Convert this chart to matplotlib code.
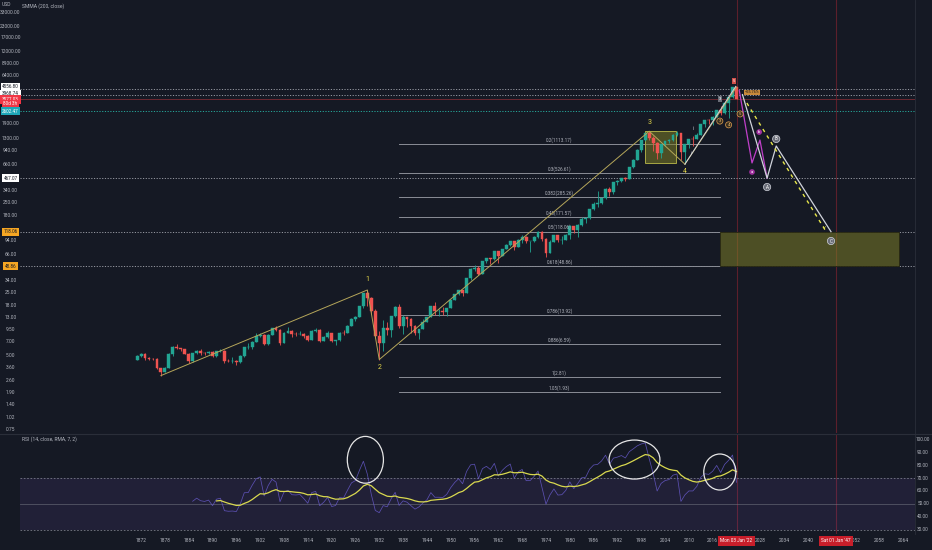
import numpy as np
import matplotlib
matplotlib.use("Agg")
import matplotlib.pyplot as plt
from matplotlib.patches import Rectangle, Ellipse
from matplotlib.transforms import blended_transform_factory as blend

plt.rcParams['font.family'] = ['Roboto', 'DejaVu Sans']

# ---------------- data ----------------
years = list(range(1871, 2023))
first_open = 4.44
closes = [
    4.86, 5.11, 4.66, 4.54, 4.46, 3.55, 3.25, 3.58, 5.11, 6.19,
    5.92, 5.81, 5.18, 4.24, 5.20, 5.58, 5.31, 5.24, 5.38, 4.84,
    5.51, 5.61, 4.32, 4.25, 4.27, 4.22, 4.88, 6.08, 6.10, 7.07,
    8.12, 8.46, 6.68, 8.43, 9.87, 9.56, 6.85, 8.85, 9.30, 8.59,
    8.55, 8.65, 8.05, 7.35, 9.33, 9.57, 7.21, 7.85, 8.83, 7.11,
    7.30, 8.90, 8.83, 10.58, 12.65, 13.40, 17.66, 24.35, 21.45, 15.34,
    8.12, 6.89, 10.10, 9.50, 13.43, 17.18, 10.55, 13.21, 12.49, 10.58,
    8.69, 9.77, 11.67, 13.28, 17.36, 15.30, 15.30, 15.20, 16.76, 20.41,
    23.77, 26.57, 24.81, 35.98, 45.48, 46.67, 39.99, 55.21, 59.89, 58.11,
    71.55, 63.10, 75.02, 84.75, 92.43, 80.33, 96.47, 103.86, 92.06, 92.15,
    102.09, 118.05, 97.55, 68.56, 90.19, 107.46, 95.10, 96.11, 107.94, 135.76,
    122.55, 140.64, 164.93, 167.24, 211.28, 242.17, 247.08, 277.72, 353.40, 330.22,
    417.09, 435.71, 466.45, 459.27, 615.93, 740.74, 970.43, 1229.23, 1469.25, 1320.28,
    1148.08, 879.82, 1111.92, 1211.92, 1248.29, 1418.30, 1468.36, 903.25, 1115.10, 1257.64,
    1257.60, 1426.19, 1848.36, 2058.90, 2043.94, 2238.83, 2673.61, 2506.85, 3230.78, 3756.07,
    4766.18, 3577.03]
highs = [
    4.95, 5.20, 5.20, 4.80, 4.65, 4.60, 3.60, 3.65, 5.20, 6.30,
    6.60, 6.00, 5.90, 5.20, 5.30, 5.70, 5.80, 5.40, 5.50, 5.50,
    5.60, 5.80, 5.65, 4.55, 4.70, 4.40, 5.00, 6.15, 6.80, 7.15,
    8.70, 8.80, 8.50, 8.50, 9.95, 10.40, 9.70, 8.95, 10.30, 9.40,
    9.10, 9.30, 8.80, 8.30, 9.40, 9.90, 9.70, 8.20, 9.30, 8.90,
    7.40, 9.10, 9.40, 10.70, 12.80, 13.70, 17.70, 24.80, 26.50, 22.20,
    16.20, 9.30, 12.20, 11.80, 13.50, 17.70, 18.70, 13.80, 13.20, 12.80,
    10.90, 9.80, 12.60, 13.40, 17.60, 19.30, 16.20, 17.10, 16.80, 20.50,
    23.90, 26.60, 26.70, 36.00, 46.40, 49.70, 49.10, 55.30, 60.70, 60.40,
    72.60, 71.10, 75.10, 86.30, 92.60, 94.10, 97.60, 108.40, 106.20, 93.50,
    104.80, 119.10, 120.20, 99.80, 95.60, 107.80, 107.50, 106.90, 111.30, 140.50,
    138.10, 143.70, 172.60, 170.40, 212.00, 254.00, 336.80, 283.70, 359.80, 369.80,
    418.30, 442.70, 471.30, 482.90, 622.90, 757.00, 983.80, 1244.90, 1473.10, 1552.90,
    1383.40, 1176.60, 1112.60, 1217.30, 1275.80, 1431.80, 1576.10, 1471.80, 1130.40, 1262.60,
    1370.60, 1474.50, 1849.40, 2093.60, 2134.70, 2277.50, 2694.97, 2940.90, 3247.90, 3760.20,
    4808.90, 4818.62]
lows = [
    4.40, 4.80, 4.40, 4.40, 4.35, 3.50, 2.95, 3.20, 3.55, 4.90,
    5.80, 5.50, 5.10, 4.10, 4.15, 5.10, 5.00, 5.00, 5.15, 4.70,
    4.75, 5.40, 4.10, 4.20, 4.10, 3.90, 4.10, 4.70, 5.90, 5.80,
    7.00, 8.00, 6.40, 6.50, 8.30, 9.20, 6.40, 6.80, 8.70, 8.00,
    8.20, 8.40, 7.70, 7.20, 7.30, 9.00, 7.00, 7.10, 7.80, 6.90,
    6.40, 7.20, 8.30, 8.70, 10.40, 12.00, 13.20, 16.90, 17.60, 14.40,
    7.70, 4.45, 5.50, 8.40, 8.00, 13.10, 10.10, 8.50, 10.20, 8.90,
    8.40, 7.50, 9.80, 11.60, 13.20, 14.10, 13.70, 13.80, 13.50, 16.60,
    20.60, 23.10, 22.70, 24.80, 34.60, 43.10, 38.90, 39.90, 53.60, 52.20,
    57.60, 52.30, 62.70, 75.00, 81.60, 73.20, 80.30, 87.70, 89.20, 69.30,
    90.20, 101.70, 92.20, 62.30, 68.50, 90.10, 90.70, 86.90, 96.10, 98.20,
    112.80, 102.20, 138.30, 147.80, 163.40, 203.50, 223.90, 242.60, 275.30, 294.50,
    309.40, 394.50, 426.90, 435.90, 457.20, 597.30, 733.50, 912.80, 1205.50, 1254.10,
    944.80, 768.60, 788.90, 1060.70, 1136.20, 1219.30, 1363.00, 741.00, 666.80, 1010.90,
    1074.80, 1258.90, 1426.20, 1737.90, 1867.00, 1810.10, 2245.10, 2346.60, 2443.90, 2191.90,
    3662.70, 3568.00]

# Elliott-wave count (year, price)
wave_years = [1877, 1929, 1932, 2000, 2009]
wave_prices = [2.95, 26.5, 4.45, 1552.9, 666.8]
wave_labels = ["", "1", "2", "3", "4"]
wave_label_prices = [None, 35.0, 3.67, 1960.0, 546.0]

# fib retracement levels
fib_levels = ["0.2", "0.3", "0.382", "0.45", "0.5", "0.618", "0.786", "0.886", "1", "1.05"]
fib_prices = [1113.17, 526.61, 285.26, 171.57, 118.06, 48.86, 13.92, 6.59, 2.81, 1.93]
fib_span = (1937.0, 2017.8)

# projections
white_path_years = [2023.5, 2029.7, 2032.0, 2045.8]
white_path_prices = [3968.0, 467.07, 1063.0, 118.06]
white_path_labels = ["", "A", "B", "C"]
white_label_prices = [None, 371.0, 1274.0, 93.0]
magenta_years = [2022.7, 2025.9, 2027.9, 2029.7]
magenta_prices = [4400.0, 688.0, 1239.0, 467.07]
magenta_labels = [(2025.9, 546.0, "a"), (2027.7, 1520.0, "b")]
yellow_dash_years = [2024.6, 2044.8]
yellow_dash_prices = [3200.0, 114.0]
channel_white = ([2009, 2021.8], [666.8, 4900.0])
channel_khaki = ([2009, 2022.0], [666.8, 4818.62])
sub_labels = [(2017.8, 2012.0, "3"), (2020.0, 1828.0, "4"), (2022.9, 2418.0, "5")]
small_white = [(2011.0, 1686.0, "i"), (2010.8, 888.0, "ii")]

# boxes (year0, year1, price0, price1)
box_wave4 = (1999.0, 2006.8, 688.0, 1562.0)
box_target = (2017.8, 2062.9, 48.86, 118.06)

# horizontal marker lines
hlines_white = [4556.80, 3968.74, 467.07, 118.06, 48.86]
hline_teal = 2602.47
last_price = 3577.03

# axis labels
left_ticks = [0.75, 1.02, 1.40, 1.90, 2.60, 3.60, 5.00, 7.00, 9.50, 13.00, 18.00,
              25.00, 34.00, 66.00, 94.00, 180.00, 250.00, 340.00, 660.00, 940.00,
              1300.00, 1900.00, 6400.00, 8900.00, 12000.00, 17000.00, 23000.00, 33000.00]
year_ticks = [1872, 1878, 1884, 1890, 1896, 1902, 1908, 1914, 1920, 1926, 1932, 1938,
              1944, 1950, 1956, 1962, 1968, 1974, 1980, 1986, 1992, 1998, 2004, 2010,
              2016, 2028, 2034, 2040, 2052, 2058, 2064]
marker_years = [2022, 2047]
marker_texts = ["Mon 03 Jan '22", "Sat 01 Jan '47"]
rsi_ticks = [100, 90, 80, 70, 60, 50, 40, 30]

# RSI circles (center year, center rsi, width yrs, height)
rsi_circles = [(1928.5, 84.0, 9.1, 36.0), (1996.3, 84.2, 12.8, 30.0), (2017.8, 74.6, 8.1, 27.7)]

# ---------------- style ----------------
BG = '#151924'
TXT = '#b2b5be'
UP = '#22a593'
DN = '#ef5350'
FS = 3.9

W, H = 932, 550
L, R = 20, 915
fig = plt.figure(figsize=(W / 100, H / 100), dpi=100, facecolor=BG)
ax = fig.add_axes([L / W, 1 - 433 / H, (R - L) / W, 433 / H])
axr = fig.add_axes([L / W, 1 - 534 / H, (R - L) / W, 100 / H])
for a in (ax, axr):
    a.set_facecolor(BG)
    for s in a.spines.values():
        s.set_visible(False)
    a.set_xticks([])
    a.set_yticks([])
    a.set_xlim(1841.5, 2066.96)
ax.set_yscale('log')
ax.set_ylim(0.6769, 44906)
axr.set_ylim(26.92, 103.85)
ax.minorticks_off()
ax.set_yticks([])

# separators
fig.add_artist(plt.Line2D([0, 1], [1 - 433.5 / H] * 2, color='#2a2e39', lw=0.8))
fig.add_artist(plt.Line2D([R / W] * 2, [1 - 534 / H, 1], color='#2a2e39', lw=0.6))

# ---------------- candles ----------------
x = np.array(years, dtype=float)
c = np.array(closes)
o = np.concatenate([[first_open], c[:-1]])
h = np.maximum(np.array(highs), np.maximum(o, c))
lo = np.minimum(np.array(lows), np.minimum(o, c))
up = c >= o
cols = np.where(up, UP, DN)
ax.vlines(x, lo, h, colors=cols, lw=0.6, zorder=3)
bot = np.minimum(o, c)
top = np.maximum(o, c)
ax.bar(x, top - bot, bottom=bot, width=0.72, color=cols, edgecolor=cols, lw=0.3, zorder=4)

# vertical marker lines
for yv in marker_years:
    for a in (ax, axr):
        a.axvline(yv, color='#5c1f2b', lw=0.8, zorder=1)

# horizontal lines
for p in hlines_white:
    ax.axhline(p, color='#9598a1', lw=0.7, ls=(0, (1.2, 1.6)), zorder=2)
ax.axhline(hline_teal, color='#26a69a', lw=0.7, ls=(0, (1.2, 1.6)), zorder=2)
ax.axhline(last_price, color='#7a2a33', lw=0.6, zorder=2)

# fib
for lev, p in zip(fib_levels, fib_prices):
    ax.plot(fib_span, [p, p], color='#8a8d96', lw=0.7, zorder=2)
    ax.text(np.mean(fib_span), p * 1.035, f"{lev}({p:.2f})", color=TXT, fontsize=FS - 0.6,
            ha='center', va='bottom', zorder=5)

# boxes
for (y0, y1, p0, p1), ec in ((box_wave4, '#a8a845'), (box_target, '#2a2a14')):
    ax.add_patch(Rectangle((y0, p0), y1 - y0, p1 - p0, facecolor='#7d7d26', alpha=0.55,
                           edgecolor='none', zorder=2))
    ax.add_patch(Rectangle((y0, p0), y1 - y0, p1 - p0, facecolor='none', edgecolor=ec,
                           lw=0.7, zorder=2))

# wave lines
ax.plot(wave_years, wave_prices, color='#b5a65a', lw=0.7, zorder=5)
ax.plot(*channel_khaki, color='#b5a65a', lw=0.7, zorder=5)
ax.plot(*channel_white, color='#d1d4dc', lw=0.7, zorder=5)
for yv, p, t in zip(wave_years, wave_label_prices, wave_labels):
    if t:
        ax.text(yv, p, t, color='#e6d84a', fontsize=5, ha='center', va='center', zorder=6)
for yv, p, t in small_white:
    ax.text(yv, p, t, color='#d1d4dc', fontsize=3.5, ha='center', va='center', zorder=6)

# projections
ax.plot(magenta_years, magenta_prices, color='#c03fc9', lw=0.9, zorder=5)
ax.plot(white_path_years, white_path_prices, color='#d1d4dc', lw=0.9, zorder=5)
ax.plot(yellow_dash_years, yellow_dash_prices, color='#e6e64a', lw=1.0, ls=(0, (2.5, 3)), zorder=5)
ax.text(yellow_dash_years[1] - 0.6, yellow_dash_prices[1] * 1.12, "Y", color='#e6e64a',
        fontsize=3.5, ha='center', va='center', zorder=6)
for yv, p, t in zip(white_path_years, white_label_prices, white_path_labels):
    if t:
        ax.text(yv, p, t, color='#ffffff', fontsize=3.3, ha='center', va='center', zorder=7,
                bbox=dict(boxstyle='circle,pad=0.25', fc='#6a6d78', ec='#d1d4dc', lw=0.5))
for yv, p, t in magenta_labels:
    ax.text(yv, p, t, color='#ffffff', fontsize=3.0, ha='center', va='center', zorder=7,
            bbox=dict(boxstyle='circle,pad=0.2', fc='#a0309f', ec='none'))
for yv, p, t in sub_labels:
    ax.text(yv, p, t, color='#f0c070', fontsize=3.0, ha='center', va='center', zorder=7,
            bbox=dict(boxstyle='circle,pad=0.25', fc='#3a3020', ec='#e0a050', lw=0.5))
ax.text(2017.8, 3556, "3", color='#ffffff', fontsize=3.0, ha='center', va='center', zorder=7,
        bbox=dict(boxstyle='square,pad=0.25', fc='#6a6d78', ec='none'))
ax.text(2026.0, 4200, "\u221225.76%", color='#1a1a1a', fontsize=2.8, ha='center', va='center',
        zorder=7, bbox=dict(boxstyle='square,pad=0.2', fc='#c7893a', ec='none'))
ax.text(2021.3, 5600, "5", color='#ffffff', fontsize=3.0, ha='center', va='center', zorder=8,
        bbox=dict(boxstyle='square,pad=0.2', fc='#d0504a', ec='none'))

# ---------------- left price axis ----------------
tl = blend(ax.transAxes, ax.transData)
lx = -9.5 / (R - L)
for p in left_ticks:
    ax.text(lx, p, f"{p:.2f}", color=TXT, fontsize=FS - 0.4, ha='center', va='center',
            transform=tl, clip_on=False)
boxes = [(4556.80 * 1.06, "4556.80", '#ffffff', '#131722'),
         (3968.74 * 1.02, "3968.74", '#ffffff', '#131722'),
         (last_price * 0.98, "3577.03", '#f23645', '#ffffff'),
         (last_price * 0.88, "80d 3h", '#f23645', '#ffffff'),
         (hline_teal, "2602.47", '#1ea7b8', '#ffffff'),
         (467.07, "467.07", '#ffffff', '#131722'),
         (118.06, "118.06", '#f5a623', '#131722'),
         (48.86, "48.86", '#f5a623', '#131722')]
for p, t, fc, tc in boxes:
    ax.text(lx, p, t, color=tc, fontsize=FS - 0.6, ha='center', va='center', transform=tl,
            clip_on=False, zorder=10,
            bbox=dict(boxstyle='square,pad=0.35', fc=fc, ec='none'))
fig.text(2 / W, 1 - 5 / H, "USD", color=TXT, fontsize=FS - 0.3, ha='left', va='center')
fig.text(22 / W, 1 - 6 / H, "SMMA (200, close)", color=TXT, fontsize=FS - 0.3, ha='left', va='center')

# ---------------- RSI ----------------
d = np.diff(c)
gain = np.clip(d, 0, None)
loss = np.clip(-d, 0, None)


def rma(v, n):
    out = np.full(len(v), np.nan)
    valid = np.where(~np.isnan(v))[0]
    s = valid[0]
    if len(v) - s < n:
        return out
    out[s + n - 1] = np.mean(v[s:s + n])
    for i in range(s + n, len(v)):
        out[i] = (out[i - 1] * (n - 1) + v[i]) / n
    return out


ag = rma(gain, 14)
al = rma(loss, 14)
rsi = np.concatenate([[np.nan], 100 - 100 / (1 + ag / al)])
rsi_ma = rma(rsi, 7)

axr.axhspan(30, 70, color='#7e57c2', alpha=0.12, lw=0)
axr.axhline(70, color='#787b86', lw=0.6, ls=(0, (2, 2)))
axr.axhline(30, color='#787b86', lw=0.6, ls=(0, (2, 2)))
axr.axhline(50, color='#787b86', lw=0.6, alpha=0.6)
axr.plot(x, rsi, color='#6a5cd0', lw=0.55, alpha=0.8)
axr.plot(x, rsi_ma, color='#d9d94f', lw=0.9)
for cx, cy, w, hh in rsi_circles:
    axr.add_patch(Ellipse((cx, cy), w, hh, facecolor='none', edgecolor='#e6e6e6', lw=0.9,
                          zorder=6))
fig.text(22 / W, 1 - 439 / H, "RSI (14, close, RMA, 7, 2)", color=TXT, fontsize=FS - 0.3,
         ha='left', va='center')
tr = blend(axr.transAxes, axr.transData)
for v in rsi_ticks:
    axr.text(1 + 8 / (R - L), v, f"{v:.2f}", color=TXT, fontsize=FS - 0.5, ha='center',
             va='center', transform=tr, clip_on=False)

# time axis
tb = blend(axr.transData, axr.transAxes)
for yv in year_ticks:
    axr.text(yv, -0.07, str(yv), color=TXT, fontsize=FS - 0.4, ha='center', va='center',
             transform=tb, clip_on=False)
for yv, t in zip(marker_years, marker_texts):
    axr.text(yv, -0.07, t, color='#ffffff', fontsize=FS - 0.5, ha='center', va='center',
             transform=tb, clip_on=False,
             bbox=dict(boxstyle='square,pad=0.45', fc='#c81e2a', ec='none'))

fig.savefig('out.png', dpi=100, facecolor=BG)
